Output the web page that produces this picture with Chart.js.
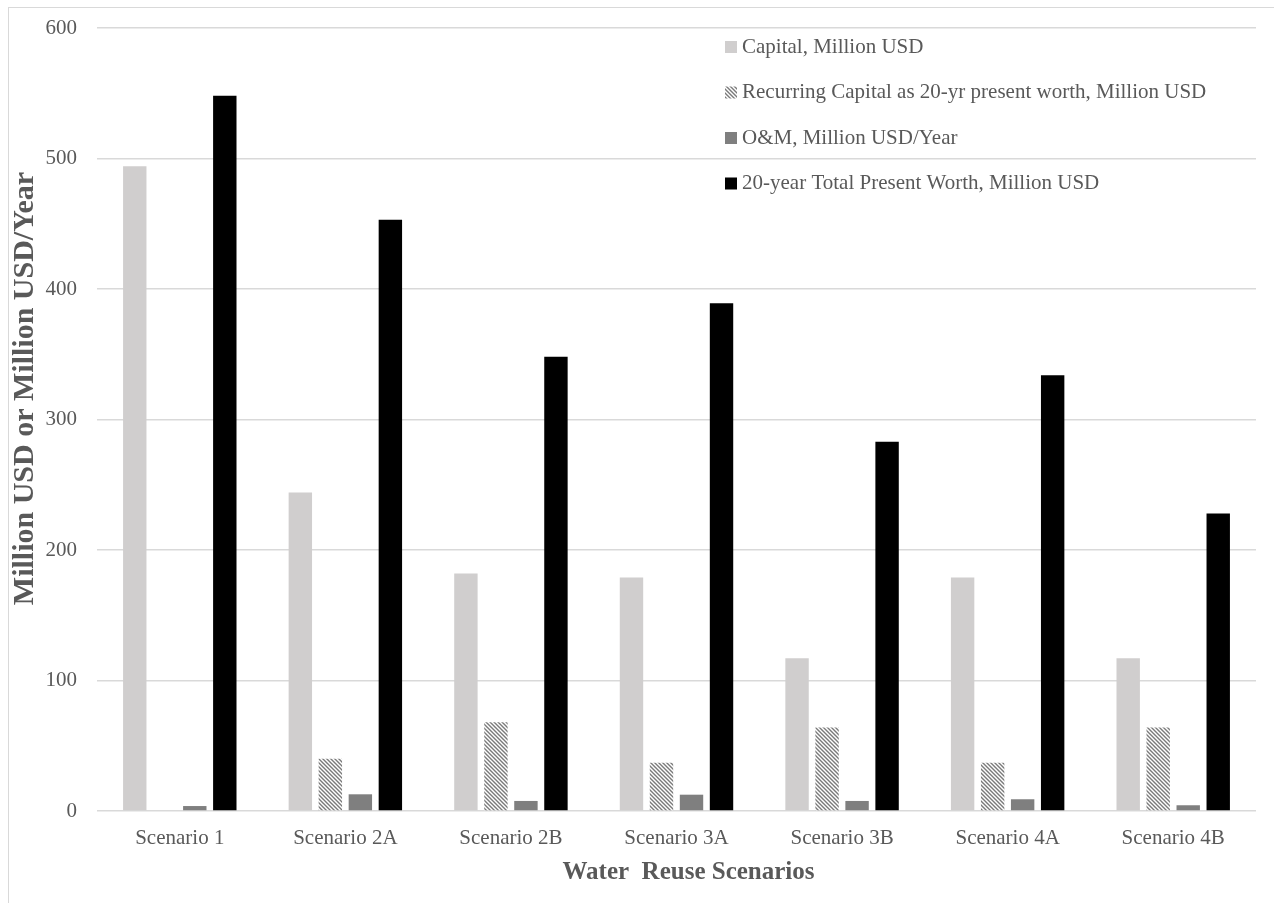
<!DOCTYPE html>
<html>
<head>
<meta charset="utf-8">
<title>Water Reuse Scenarios – Costs</title>
<script src="https://cdn.jsdelivr.net/npm/chart.js@4.4.1/dist/chart.umd.min.js"></script>
<style>
  html, body { margin: 0; padding: 0; background: #ffffff; overflow: hidden; }
  #wrap { position: relative; width: 1274px; height: 903px; }
  #frame { position: absolute; left: 8px; top: 7px; width: 1300px; height: 950px;
           border: 1px solid #d9d9d9; box-sizing: border-box; pointer-events: none; }
  canvas { position: absolute; left: 0; top: 0; }
</style>
</head>
<body>
<div id="wrap">
  <div id="frame"></div>
  <canvas id="chart" width="1274" height="903"></canvas>
</div>
<script>
// Scenario categories and cost series (million USD; O&M per year)
const categories = ['Scenario 1', 'Scenario 2A', 'Scenario 2B', 'Scenario 3A', 'Scenario 3B', 'Scenario 4A', 'Scenario 4B'];
const capital    = [494, 244, 182, 179, 117, 179, 117];
const recurring  = [0, 40, 68, 37, 64, 37, 64];
const oandm      = [3.8, 12.8, 7.7, 12.5, 7.7, 9, 4.4];
const totalPW    = [548, 453, 348, 389, 283, 334, 228];
const yTicks     = [0, 100, 200, 300, 400, 500, 600];

const seriesLabels = [
  'Capital, Million USD',
  'Recurring Capital as 20-yr present worth, Million USD',
  'O&M, Million USD/Year',
  '20-year Total Present Worth, Million USD'
];
const xTitle = 'Water  Reuse Scenarios';
const yTitle = 'Million USD or Million USD/Year';

const FONT = '"Liberation Serif", "Times New Roman", serif';
const TEXT = '#595959';
const GRID = '#d9d9d9';

// Diagonal hatch fill for the recurring-capital series
function makeHatch() {
  const s = 4;
  const c = document.createElement('canvas');
  c.width = s; c.height = s;
  const g = c.getContext('2d');
  g.fillStyle = '#ffffff';
  g.fillRect(0, 0, s, s);
  g.strokeStyle = '#7a7a7a';
  g.lineWidth = 1.4;
  g.beginPath();
  g.moveTo(-1, -1); g.lineTo(s + 1, s + 1);
  g.moveTo(-1, s - 1); g.lineTo(1, s + 1);
  g.moveTo(s - 1, -1); g.lineTo(s + 1, 1);
  g.stroke();
  return document.getElementById('chart').getContext('2d').createPattern(c, 'repeat');
}
const hatch = makeHatch();

// Legend drawn inside the plot area, stacked vertically at the upper right
const insideLegend = {
  id: 'insideLegend',
  afterDatasetsDraw(chart) {
    const ctx = chart.ctx;
    const x0 = 725, y0 = 47, step = 45.5, box = 12;
    ctx.save();
    ctx.font = '21px ' + FONT;
    ctx.textBaseline = 'middle';
    ctx.textAlign = 'left';
    chart.data.datasets.forEach((ds, i) => {
      const y = y0 + i * step;
      ctx.fillStyle = ds.backgroundColor;
      ctx.fillRect(x0, y - box / 2, box, box);
      ctx.fillStyle = TEXT;
      ctx.fillText(ds.label, x0 + 17, y);
    });
    ctx.restore();
  }
};

// Axis titles, placed slightly off the axis centres
const axisTitles = {
  id: 'axisTitles',
  afterDraw(chart) {
    const ctx = chart.ctx;
    const area = chart.chartArea;
    ctx.save();
    ctx.fillStyle = TEXT;
    ctx.textAlign = 'center';
    ctx.textBaseline = 'middle';
    ctx.font = 'bold 25px ' + FONT;
    ctx.fillText(xTitle, (area.left + area.right) / 2 + 12, 873);
    ctx.translate(25, (area.top + area.bottom) / 2 - 31);
    ctx.rotate(-Math.PI / 2);
    ctx.font = 'bold 30px ' + FONT;
    ctx.fillText(yTitle, 0, 0);
    ctx.restore();
  }
};

const common = { categoryPercentage: 0.725, barPercentage: 0.78, borderWidth: 0 };

new Chart(document.getElementById('chart'), {
  type: 'bar',
  data: {
    labels: categories,
    datasets: [
      Object.assign({ label: seriesLabels[0], data: capital,   backgroundColor: '#d0cece' }, common),
      Object.assign({ label: seriesLabels[1], data: recurring, backgroundColor: hatch }, common),
      Object.assign({ label: seriesLabels[2], data: oandm,     backgroundColor: '#7f7f7f' }, common),
      Object.assign({ label: seriesLabels[3], data: totalPW,   backgroundColor: '#000000' }, common)
    ]
  },
  options: {
    responsive: false,
    devicePixelRatio: 1,
    animation: false,
    layout: { padding: { left: 0, top: 28, right: 18, bottom: 0 } },
    plugins: {
      legend: { display: false },
      tooltip: { enabled: false }
    },
    scales: {
      x: {
        grid: { display: false },
        border: { display: false },
        ticks: { color: TEXT, font: { family: FONT, size: 21 }, padding: 7, maxRotation: 0 },
        afterFit(scale) { scale.height = 92; }
      },
      y: {
        min: 0,
        max: 600,
        afterBuildTicks(scale) { scale.ticks = yTicks.map(v => ({ value: v })); },
        grid: { color: GRID, lineWidth: 1.5, drawTicks: false },
        border: { display: false },
        ticks: { color: TEXT, font: { family: FONT, size: 21 }, padding: 20 },
        afterFit(scale) {
          scale.width = 97;
          scale.paddingTop = 0;
          scale.paddingBottom = 0;
        }
      }
    }
  },
  plugins: [insideLegend, axisTitles]
});
</script>
</body>
</html>
